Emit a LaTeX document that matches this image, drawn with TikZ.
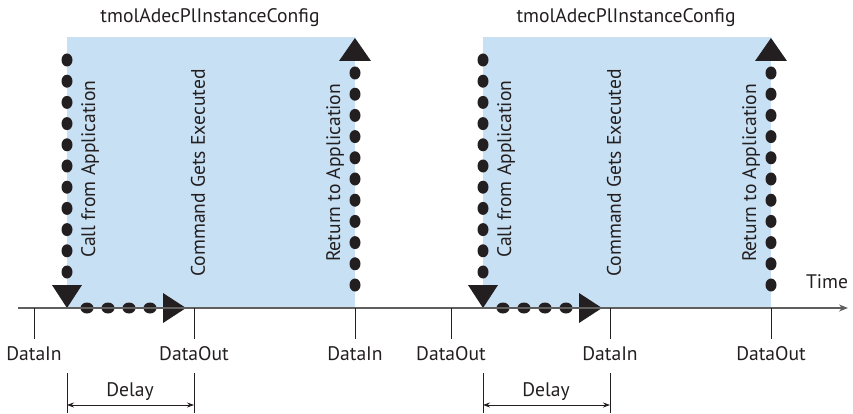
\documentclass[tikz,border=0pt]{standalone}
\usepackage{fontspec}
\setmainfont{PT Sans}
\usetikzlibrary{arrows.meta}
\definecolor{phase}{RGB}{200,224,243}
\definecolor{ink}{RGB}{35,31,32}
\definecolor{axis}{RGB}{95,95,95}
\begin{document}
\begin{tikzpicture}[x=1pt,y=-1pt,
  lbl/.style={font=\fontsize{19.6}{22}\selectfont, text=ink, inner sep=0pt},
  vlbl/.style={lbl, rotate=90, anchor=west},
  tick/.style={ink, line width=0.8pt},
  span/.style={ink, line width=0.7pt, {Stealth[length=7pt,width=5pt]}-{Stealth[length=7pt,width=5pt]}}]
\useasboundingbox (0,0) rectangle (853,414);

% time axis
\coordinate (t0) at (18,308);
\coordinate (t1) at (848,308);

% two identical call cycles, shifted by 416pt
\foreach \dx/\k in {0/a,416/b} {
  \begin{scope}[xshift=\dx]
    % execution window
    \fill[phase] (67,37) rectangle (355,308);
    \node[lbl] (title\k) at (210,18) {tmolAdecPlInstanceConfig};
    % call from application: dotted arrow down
    \foreach \i in {0,...,10} \fill[ink] (67,60+21.2*\i) ellipse [x radius=5.5, y radius=6.5];
    \fill[ink] (52,285) -- (82,285) -- (67,308) -- cycle;
    % delay: dotted arrow right
    \foreach \i in {0,...,3} \fill[ink] (87+21*\i,308) ellipse [x radius=6.5, y radius=5.5];
    \fill[ink] (163,293) -- (163,323) -- (186,308) -- cycle;
    % return to application: dotted arrow up
    \foreach \i in {0,...,10} \fill[ink] (355,73+21.2*\i) ellipse [x radius=5.5, y radius=6.5];
    \fill[ink] (339,61) -- (371,61) -- (355,38) -- cycle;
    % phase labels
    \node[vlbl] (call\k) at (90,258) {Call from Application};
    \node[vlbl] (exec\k) at (198,277) {Command Gets Executed};
    \node[vlbl] (ret\k) at (335,262) {Return to Application};
    % delay span
    \coordinate (d0\k) at (67,373);
    \coordinate (d1\k) at (194,373);
    \coordinate (e0\k) at (67,405);
    \coordinate (e1\k) at (194,405);
    \draw[tick] (d0\k) -- ++(0,40);
    \draw[tick] (d1\k) -- ++(0,40);
    \draw[span] (e0\k) -- (e1\k);
    \node[lbl] (delay\k) at (130,392) {Delay};
  \end{scope}
}

\draw[axis, line width=1.6pt, -{Stealth[length=9pt,width=7pt]}] (t0) -- (t1);
\node[lbl] (time) at (827,282) {Time};

% data exchange ticks
\foreach \x/\t/\n in {34/DataIn/i1, 194/DataOut/o1, 355/DataIn/i2, 451/DataOut/o2, 610/DataIn/i3, 771/DataOut/o3} {
  \coordinate (k\n) at (\x,308);
  \draw[tick] (k\n) -- ++(0,31);
  \node[lbl] (l\n) at (\x,354) {\t};
}
\end{tikzpicture}
\end{document}
